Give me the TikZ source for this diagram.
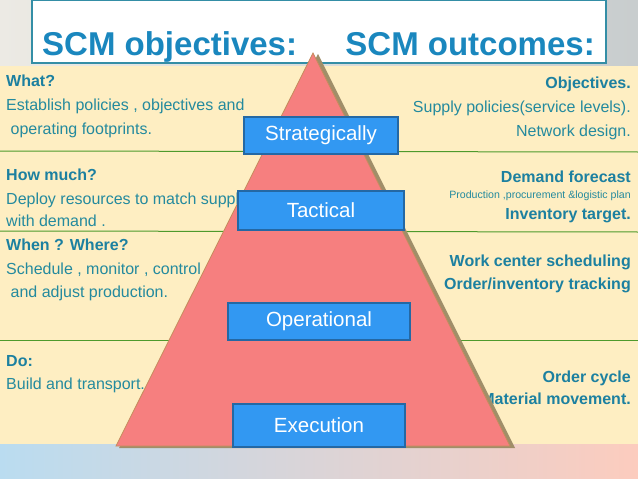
\documentclass[tikz,border=0pt]{standalone}
\usepackage{fontspec}
\setmainfont{Liberation Sans}
\usetikzlibrary{positioning}
\definecolor{creamband}{RGB}{254,238,194}
\definecolor{pyrfill}{RGB}{246,127,127}
\definecolor{pyrshadow}{RGB}{160,142,105}
\definecolor{pyredge}{RGB}{196,140,92}
\definecolor{levelblue}{RGB}{50,152,242}
\definecolor{leveledge}{RGB}{36,104,164}
\definecolor{tealtext}{RGB}{36,138,158}
\definecolor{tealbold}{RGB}{28,128,160}
\definecolor{titleblue}{RGB}{26,135,190}
\definecolor{titleedge}{RGB}{52,142,166}
\definecolor{rulegreen}{RGB}{78,154,44}
\definecolor{skyleft}{RGB}{186,220,240}
\definecolor{peachright}{RGB}{252,204,190}
\definecolor{greyleft}{RGB}{236,234,228}
\definecolor{greyright}{RGB}{200,205,206}
\tikzset{
  lefttxt/.style={anchor=base west,inner sep=0pt,text=tealtext,
    font=\fontsize{16}{19}\selectfont},
  leftbold/.style={lefttxt,text=tealbold,font=\fontsize{16}{19}\selectfont\bfseries},
  righttxt/.style={anchor=base east,inner sep=0pt,text=tealtext,
    font=\fontsize{16}{19}\selectfont},
  rightbold/.style={righttxt,text=tealbold,font=\fontsize{16}{19}\selectfont\bfseries},
  titletxt/.style={anchor=base west,inner sep=0pt,text=titleblue,
    font=\fontsize{33}{38}\selectfont\bfseries},
  levelbox/.style={draw=leveledge,fill=levelblue,line width=1.2pt,text=white,
    inner sep=0pt,font=\fontsize{20.5}{24}\selectfont},
  bandrule/.style={draw=rulegreen,line width=1pt},
}
\begin{document}
\begin{tikzpicture}[x=1pt,y=-1pt]
  \useasboundingbox (0,0) rectangle (638,479);
  % backdrop
  \shade[left color=greyleft,right color=greyright] (0,0) rectangle (638,66);
  \fill[creamband] (0,66) rectangle (638,444);
  \shade[left color=skyleft,right color=peachright] (0,444) rectangle (638,479);
  % band rules
  \draw[bandrule] (0,151) -- (638,152);
  \draw[bandrule] (0,231) -- (638,232);
  \draw[bandrule] (0,340) -- (638,340);
  % objectives
  \node[leftbold] (what) at (6,86) {What?};
  \node[lefttxt] (what1) at (6,110) {Establish policies , objectives and};
  \node[lefttxt] (what2) at (6,134) {\ operating footprints.};
  \node[leftbold] (much) at (6,180) {How much?};
  \node[lefttxt] (much1) at (6,204) {Deploy resources to match supply};
  \node[lefttxt] (much2) at (6,226) {with demand .};
  \node[leftbold] (when) at (6,250) {When ? Where?};
  \node[lefttxt] (when1) at (6,274) {Schedule , monitor , control};
  \node[lefttxt] (when2) at (6,297) {\ and adjust production.};
  \node[leftbold] (do) at (6,366) {Do:};
  \node[lefttxt] (do1) at (6,389) {Build and transport.};
  % outcomes
  \node[rightbold] (obj) at (631,88) {Objectives.};
  \node[righttxt] (obj1) at (631,112) {Supply policies(service levels).};
  \node[righttxt] (obj2) at (631,136) {Network design.};
  \node[rightbold] (dem) at (631,182) {Demand forecast};
  \node[righttxt,font=\fontsize{10.6}{12}\selectfont] (dem1) at (631,198)
    {Production ,procurement \&logistic plan};
  \node[rightbold] (inv) at (631,219) {Inventory target.};
  \node[rightbold] (work) at (631,266) {Work center scheduling};
  \node[rightbold] (track) at (631,289) {Order/inventory tracking};
  \node[rightbold] (cycle) at (631,382) {Order cycle};
  \node[rightbold] (move) at (631,404) {Material movement.};
  % heading
  \draw[titleedge,fill=white,line width=1.3pt] (32,0) rectangle (606,63);
  \node[titletxt] (objhead) at (42,55) {SCM objectives:};
  \node[titletxt,anchor=base east] (outhead) at (595,55) {SCM outcomes:};
  % pyramid
  \fill[pyrshadow] (318,54) -- (515,448) -- (119,448) -- cycle;
  \filldraw[fill=pyrfill,draw=pyredge,line width=0.8pt] (313,53) -- (510,446) -- (116,446) -- cycle;
  % levels
  \node[levelbox,minimum width=154pt,minimum height=37pt] (strat) at (321,135.5) {Strategically};
  \node[levelbox,minimum width=166pt,minimum height=39pt] (tact) at (321,210.5) {Tactical};
  \node[levelbox,minimum width=182pt,minimum height=37pt] (oper) at (319,321.5) {Operational};
  \node[levelbox,minimum width=172pt,minimum height=43pt] (exec) at (319,425.5) {Execution};
\end{tikzpicture}
\end{document}
